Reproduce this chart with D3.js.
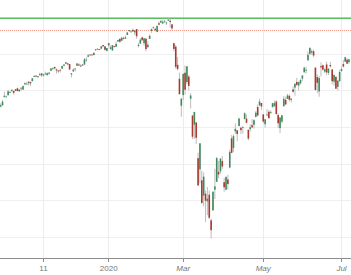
<!DOCTYPE html>
<head>
  <title>S&P 500 daily candles</title>
  <style>
    body { margin: 0; background: #fff; }
    svg { display: block; font-family: "Liberation Sans", Arial, sans-serif; }
  </style>
</head>
<body>
<script src="https://cdn.jsdelivr.net/npm/d3@7"></script>
<script>
// daily bars, Oct 2019 - Jul 2020
var dates = ["2019-10-07","2019-10-08","2019-10-09","2019-10-10","2019-10-11","2019-10-14","2019-10-15","2019-10-16","2019-10-17","2019-10-18",
  "2019-10-21","2019-10-22","2019-10-23","2019-10-24","2019-10-25","2019-10-28","2019-10-29","2019-10-30","2019-10-31","2019-11-01",
  "2019-11-04","2019-11-05","2019-11-06","2019-11-07","2019-11-08","2019-11-11","2019-11-12","2019-11-13","2019-11-14","2019-11-15",
  "2019-11-18","2019-11-19","2019-11-20","2019-11-21","2019-11-22","2019-11-25","2019-11-26","2019-11-27","2019-11-29","2019-12-02",
  "2019-12-03","2019-12-04","2019-12-05","2019-12-06","2019-12-09","2019-12-10","2019-12-11","2019-12-12","2019-12-13","2019-12-16",
  "2019-12-17","2019-12-18","2019-12-19","2019-12-20","2019-12-23","2019-12-24","2019-12-26","2019-12-27","2019-12-30","2019-12-31",
  "2020-01-02","2020-01-03","2020-01-06","2020-01-07","2020-01-08","2020-01-09","2020-01-10","2020-01-13","2020-01-14","2020-01-15",
  "2020-01-16","2020-01-17","2020-01-21","2020-01-22","2020-01-23","2020-01-24","2020-01-27","2020-01-28","2020-01-29","2020-01-30",
  "2020-01-31","2020-02-03","2020-02-04","2020-02-05","2020-02-06","2020-02-07","2020-02-10","2020-02-11","2020-02-12","2020-02-13",
  "2020-02-14","2020-02-18","2020-02-19","2020-02-20","2020-02-21","2020-02-24","2020-02-25","2020-02-26","2020-02-27","2020-02-28",
  "2020-03-02","2020-03-03","2020-03-04","2020-03-05","2020-03-06","2020-03-09","2020-03-10","2020-03-11","2020-03-12","2020-03-13",
  "2020-03-16","2020-03-17","2020-03-18","2020-03-19","2020-03-20","2020-03-23","2020-03-24","2020-03-25","2020-03-26","2020-03-27",
  "2020-03-30","2020-03-31","2020-04-01","2020-04-02","2020-04-03","2020-04-06","2020-04-07","2020-04-08","2020-04-09","2020-04-13",
  "2020-04-14","2020-04-15","2020-04-16","2020-04-17","2020-04-20","2020-04-21","2020-04-22","2020-04-23","2020-04-24","2020-04-27",
  "2020-04-28","2020-04-29","2020-04-30","2020-05-01","2020-05-04","2020-05-05","2020-05-06","2020-05-07","2020-05-08","2020-05-11",
  "2020-05-12","2020-05-13","2020-05-14","2020-05-15","2020-05-18","2020-05-19","2020-05-20","2020-05-21","2020-05-22","2020-05-26",
  "2020-05-27","2020-05-28","2020-05-29","2020-06-01","2020-06-02","2020-06-03","2020-06-04","2020-06-05","2020-06-08","2020-06-09",
  "2020-06-10","2020-06-11","2020-06-12","2020-06-15","2020-06-16","2020-06-17","2020-06-18","2020-06-19","2020-06-22","2020-06-23",
  "2020-06-24","2020-06-25","2020-06-26","2020-06-29","2020-06-30","2020-07-01","2020-07-02","2020-07-06","2020-07-07","2020-07-08"];

var open = [2944,2920,2911,2918,2963,2965,2973,2990,3001,2996,
  2997,3011,2995,3014,3004,3032,3036,3039,3046,3050,
  3078,3080,3075,3087,3081,3081,3089,3084,3091,3107,
  3118,3128,3114,3108,3112,3118,3134,3145,3147,3143,
  3087,3103,3119,3134,3141,3135,3135,3141,3166,3183,
  3195,3195,3192,3223,3227,3225,3227,3247,3240,3215,
  3245,3226,3218,3241,3238,3267,3281,3271,3285,3282,
  3302,3323,3321,3330,3316,3334,3248,3255,3289,3257,
  3282,3235,3281,3324,3344,3335,3318,3366,3370,3365,
  3378,3369,3380,3380,3360,3257,3238,3139,3063,2916,
  2974,3096,3045,3075,2954,2863,2813,2825,2630,2569,
  2509,2426,2436,2394,2431,2291,2345,2458,2501,2556,
  2558,2614,2499,2458,2514,2579,2738,2686,2776,2782,
  2805,2796,2800,2843,2845,2785,2788,2810,2812,2855,
  2909,2919,2931,2869,2815,2868,2883,2879,2908,2915,
  2939,2865,2794,2829,2913,2948,2953,2970,2948,3005,
  3015,3046,3026,3038,3064,3098,3112,3163,3199,3213,
  3213,3124,3072,2994,3132,3137,3102,3141,3095,3138,
  3114,3047,3074,3019,3050,3105,3143,3156,3167,3154];

var high = [2959,2925,2929,2948,2993,2972,3003,2997,3008,3000,
  3007,3015,3005,3016,3027,3044,3047,3050,3046,3066,
  3084,3083,3078,3097,3093,3088,3102,3098,3098,3120,
  3124,3128,3119,3110,3113,3133,3142,3155,3150,3144,
  3094,3119,3119,3150,3148,3142,3143,3176,3182,3198,
  3198,3198,3206,3226,3227,3226,3240,3247,3240,3231,
  3258,3246,3247,3244,3267,3275,3282,3288,3294,3299,
  3316,3329,3329,3337,3326,3334,3259,3285,3293,3285,
  3282,3268,3306,3337,3347,3341,3352,3376,3381,3385,
  3381,3375,3394,3390,3360,3259,3247,3182,3097,2959,
  3090,3136,3131,3084,2985,2863,2883,2825,2660,2711,
  2562,2553,2454,2473,2454,2300,2449,2572,2637,2616,
  2631,2642,2522,2533,2539,2676,2756,2760,2819,2783,
  2851,2802,2807,2880,2868,2785,2815,2844,2842,2887,
  2922,2954,2931,2869,2844,2898,2891,2892,2932,2945,
  2945,2875,2852,2865,2969,2965,2981,2978,2956,3021,
  3037,3068,3049,3063,3082,3130,3128,3212,3233,3223,
  3223,3124,3088,3079,3153,3141,3121,3156,3121,3155,
  3116,3087,3074,3054,3111,3129,3166,3183,3175,3172];

var low = [2935,2892,2907,2917,2963,2963,2973,2986,2991,2976,
  2995,2995,2991,2997,3002,3032,3034,3026,3023,3050,
  3074,3072,3065,3080,3073,3075,3085,3078,3083,3104,
  3112,3113,3091,3095,3097,3118,3131,3143,3139,3110,
  3070,3102,3103,3134,3135,3126,3133,3138,3156,3183,
  3191,3191,3192,3216,3222,3220,3227,3235,3216,3212,
  3235,3222,3215,3233,3236,3264,3260,3268,3277,3281,
  3302,3318,3316,3320,3302,3281,3234,3253,3271,3242,
  3214,3235,3281,3313,3334,3322,3317,3355,3369,3361,
  3367,3356,3379,3341,3328,3214,3118,3108,2977,2855,
  2946,2976,3034,2999,2901,2734,2734,2707,2478,2493,
  2381,2367,2281,2319,2296,2192,2345,2407,2500,2520,
  2545,2571,2447,2455,2460,2575,2657,2664,2762,2722,
  2805,2761,2764,2843,2821,2727,2775,2794,2791,2852,
  2859,2913,2892,2821,2797,2862,2847,2871,2908,2909,
  2869,2794,2766,2820,2913,2922,2953,2939,2934,2988,
  2970,3024,2999,3032,3051,3098,3091,3163,3193,3194,
  3181,2999,2984,2965,3076,3108,3094,3083,3083,3123,
  3033,3025,3007,2999,3048,3101,3125,3156,3146,3145];

var close = [2938,2893,2919,2938,2970,2966,2995,2990,2998,2986,
  3007,2996,3005,3010,3023,3039,3036,3047,3038,3066,
  3078,3075,3077,3085,3093,3087,3091,3094,3097,3120,
  3122,3120,3108,3103,3110,3133,3141,3153,3141,3114,
  3093,3113,3117,3146,3135,3132,3141,3169,3168,3191,
  3192,3191,3205,3221,3224,3223,3240,3240,3221,3231,
  3258,3235,3246,3237,3253,3275,3265,3288,3283,3289,
  3316,3329,3321,3321,3326,3295,3243,3276,3273,3284,
  3225,3249,3297,3334,3345,3328,3352,3358,3379,3374,
  3380,3370,3386,3373,3338,3226,3128,3116,2979,2954,
  3090,3003,3131,3024,2972,2747,2882,2741,2481,2711,
  2386,2529,2398,2409,2305,2237,2447,2476,2630,2541,
  2627,2585,2471,2527,2489,2664,2659,2750,2790,2762,
  2846,2783,2800,2875,2823,2737,2799,2798,2837,2878,
  2863,2939,2912,2830,2842,2868,2848,2881,2930,2930,
  2870,2820,2852,2864,2954,2923,2972,2949,2955,2992,
  3036,3030,3044,3056,3081,3123,3112,3194,3232,3207,
  3190,3002,3041,3067,3125,3113,3115,3098,3118,3131,
  3050,3084,3009,3053,3100,3116,3130,3180,3145,3169];

// axis ticks
var tickDates = ["2019-11-11","2020-01-02","2020-03-02","2020-05-01","2020-07-01"];
var tickLabels = ["11","2020","Mar","May","Jul"];
var gridValues = [2200,2400,2600,2800,3000,3200,3400];

// reference levels
var highLevel = 3393.5;
var prevLevel = 3331;

var W = 351, H = 275, plotBottom = 258;
var step = 1.8625;

var svg = d3.select("body").append("svg")
    .attr("width", W)
    .attr("height", H);

var i0 = dates.indexOf("2019-11-11");
var x0 = 43.5 - step * (i0 + 0.5);
var x = d3.scaleBand().domain(dates).range([x0, x0 + step * dates.length]);
var y = d3.scaleLinear().domain([2200, 3400]).range([237, 17]);
function xc(d) { return x(d) + x.bandwidth() / 2; }

svg.append("defs").append("clipPath").attr("id", "plot")
  .append("rect").attr("x", 0).attr("y", 0).attr("width", W).attr("height", plotBottom);

// grid
svg.append("g").selectAll("line").data(gridValues).enter().append("line")
    .attr("x1", 0).attr("x2", W)
    .attr("y1", function(d){ return Math.round(y(d)) + 0.5; })
    .attr("y2", function(d){ return Math.round(y(d)) + 0.5; })
    .attr("stroke", "#efefef");

svg.append("g").selectAll("line").data(tickDates).enter().append("line")
    .attr("x1", function(d){ return Math.floor(xc(d)) + 0.5; })
    .attr("x2", function(d){ return Math.floor(xc(d)) + 0.5; })
    .attr("y1", 0).attr("y2", plotBottom)
    .attr("stroke", "#ececec");

// level lines
svg.append("line")
    .attr("x1", 0).attr("x2", W)
    .attr("y1", y(highLevel)).attr("y2", y(highLevel))
    .attr("stroke", "#5cbf60").attr("stroke-width", 1.6);

svg.append("line")
    .attr("x1", 0).attr("x2", W)
    .attr("y1", Math.round(y(prevLevel)) + 0.5).attr("y2", Math.round(y(prevLevel)) + 0.5)
    .attr("stroke", "#ef9a90").attr("stroke-width", 1)
    .attr("stroke-dasharray", "1,1");

// candles
var bars = dates.map(function(d, i) {
  return {date: d, o: open[i], h: high[i], l: low[i], c: close[i]};
});

var g = svg.append("g").attr("clip-path", "url(#plot)");

g.selectAll(".wick").data(bars).enter().append("line")
    .attr("class", "wick")
    .attr("x1", function(d){ return xc(d.date); })
    .attr("x2", function(d){ return xc(d.date); })
    .attr("y1", function(d){ return y(d.h); })
    .attr("y2", function(d){ return y(d.l); })
    .attr("stroke", "#bdbdbd")
    .attr("stroke-width", 1);

g.selectAll(".body").data(bars).enter().append("rect")
    .attr("class", "body")
    .attr("x", function(d){ return xc(d.date) - 0.8; })
    .attr("width", 1.6)
    .attr("y", function(d){ return y(Math.max(d.o, d.c)); })
    .attr("height", function(d){ return Math.max(0.8, Math.abs(y(d.o) - y(d.c))); })
    .attr("fill", function(d){ return d.c >= d.o ? "#3f8b5e" : "#a83a30"; });

// x axis
svg.append("line")
    .attr("x1", 0).attr("x2", W)
    .attr("y1", plotBottom + 0.5).attr("y2", plotBottom + 0.5)
    .attr("stroke", "#8c8c8c");

svg.append("g").selectAll("line").data(tickDates).enter().append("line")
    .attr("x1", function(d){ return Math.floor(xc(d)) + 0.5; })
    .attr("x2", function(d){ return Math.floor(xc(d)) + 0.5; })
    .attr("y1", plotBottom + 1).attr("y2", plotBottom + 4)
    .attr("stroke", "#8c8c8c");

svg.append("g").selectAll("text").data(tickDates).enter().append("text")
    .attr("x", function(d){ return xc(d); })
    .attr("y", 271)
    .attr("text-anchor", "middle")
    .style("font-size", "8px")
    .style("font-style", function(d, i){ return isNaN(+tickLabels[i]) ? "italic" : "normal"; })
    .attr("fill", "#777")
    .text(function(d, i){ return tickLabels[i]; });
</script>
</body>
